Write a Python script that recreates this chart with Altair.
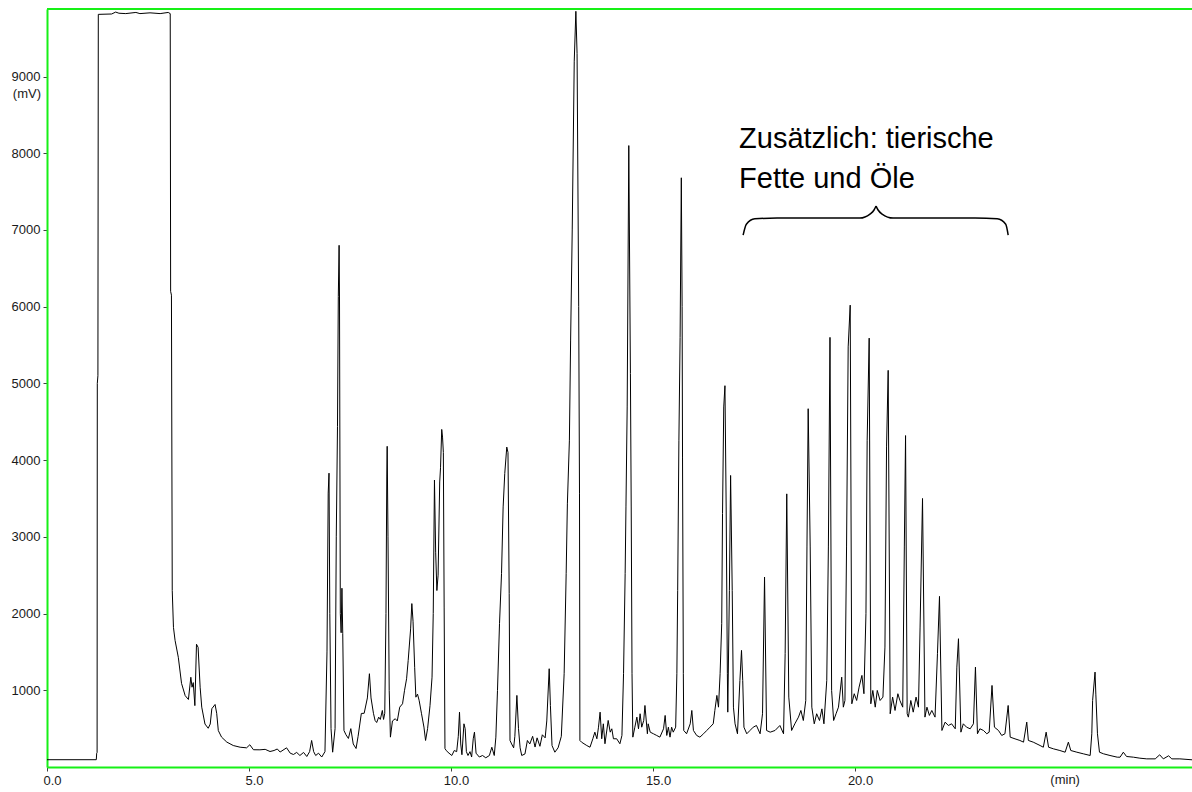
import altair as alt
import pandas as pd

# ---- chromatogram trace (retention time in min, detector signal in mV) ----
time_min = [
    0.00, 1.22, 1.23, 1.24, 1.245, 1.26, 1.27, 1.60, 1.70, 1.78, 1.95, 2.20, 2.30, 2.55, 2.80, 3.00, 3.05,
    3.06, 3.08, 3.10, 3.13, 3.17, 3.25, 3.33, 3.42, 3.50, 3.56, 3.59, 3.62, 3.66, 3.70, 3.74, 3.79, 3.83,
    3.91, 3.99, 4.04, 4.08, 4.16, 4.20, 4.24, 4.32, 4.45, 4.61, 4.78, 4.94, 5.02, 5.11, 5.27, 5.40, 5.52,
    5.62, 5.70, 5.77, 5.93, 6.02, 6.10, 6.18, 6.26, 6.35, 6.43, 6.50, 6.55, 6.60, 6.65, 6.72, 6.80, 6.88,
    6.93, 6.96, 6.98, 7.00, 7.03, 7.07, 7.13, 7.16, 7.19, 7.21, 7.23, 7.24, 7.26, 7.28, 7.30, 7.32, 7.35,
    7.40, 7.46, 7.52, 7.58, 7.65, 7.70, 7.78, 7.85, 7.93, 7.98, 8.02, 8.08, 8.12, 8.16, 8.21, 8.25, 8.30,
    8.33, 8.36, 8.39, 8.41, 8.42, 8.44, 8.47, 8.50, 8.55, 8.62, 8.67, 8.73, 8.80, 8.85, 8.90, 8.94, 9.00,
    9.03, 9.06, 9.10, 9.13, 9.17, 9.21, 9.27, 9.33, 9.37, 9.42, 9.48, 9.53, 9.56, 9.59, 9.62, 9.65, 9.68,
    9.72, 9.74, 9.77, 9.79, 9.81, 9.83, 9.85, 9.88, 9.95, 10.02, 10.08, 10.14, 10.18, 10.21, 10.24, 10.27,
    10.32, 10.35, 10.38, 10.42, 10.47, 10.51, 10.55, 10.58, 10.62, 10.70, 10.78, 10.86, 10.95, 11.01, 11.07,
    11.11, 11.15, 11.20, 11.25, 11.29, 11.33, 11.38, 11.41, 11.44, 11.46, 11.50, 11.55, 11.58, 11.63, 11.67,
    11.71, 11.75, 11.83, 11.89, 11.95, 12.02, 12.08, 12.13, 12.20, 12.26, 12.33, 12.37, 12.43, 12.46, 12.50,
    12.57, 12.65, 12.73, 12.80, 12.85, 12.88, 12.93, 12.96, 13.00, 13.05, 13.09, 13.12, 13.16, 13.18, 13.19,
    13.23, 13.36, 13.44, 13.51, 13.56, 13.61, 13.65, 13.69, 13.73, 13.77, 13.81, 13.89, 13.94, 13.98, 14.02,
    14.10, 14.18, 14.23, 14.27, 14.31, 14.33, 14.36, 14.40, 14.44, 14.46, 14.48, 14.50, 14.55, 14.60, 14.64,
    14.68, 14.72, 14.77, 14.80, 14.86, 14.88, 14.93, 15.01, 15.09, 15.17, 15.26, 15.30, 15.34, 15.38, 15.42,
    15.46, 15.50, 15.56, 15.59, 15.61, 15.64, 15.67, 15.70, 15.72, 15.73, 15.75, 15.76, 15.83, 15.92, 15.96,
    16.00, 16.08, 16.16, 16.25, 16.33, 16.41, 16.49, 16.53, 16.58, 16.62, 16.66, 16.70, 16.72, 16.75, 16.78,
    16.81, 16.84, 16.85, 16.89, 16.92, 16.96, 16.99, 17.03, 17.09, 17.15, 17.19, 17.22, 17.25, 17.32, 17.40,
    17.48, 17.56, 17.65, 17.71, 17.76, 17.81, 17.90, 18.02, 18.14, 18.23, 18.27, 18.31, 18.36, 18.43, 18.51,
    18.60, 18.66, 18.72, 18.78, 18.81, 18.84, 18.89, 18.93, 18.99, 19.05, 19.12, 19.18, 19.23, 19.30, 19.34,
    19.38, 19.42, 19.47, 19.53, 19.59, 19.67, 19.71, 19.75, 19.79, 19.83, 19.88, 19.92, 19.98, 20.04, 20.10,
    20.17, 20.22, 20.27, 20.30, 20.35, 20.39, 20.44, 20.50, 20.55, 20.62, 20.69, 20.74, 20.78, 20.82, 20.87,
    20.93, 20.99, 21.06, 21.11, 21.18, 21.22, 21.25, 21.29, 21.32, 21.38, 21.44, 21.51, 21.57, 21.61, 21.67,
    21.73, 21.78, 21.84, 21.90, 21.98, 22.04, 22.09, 22.15, 22.23, 22.31, 22.39, 22.48, 22.52, 22.56, 22.62,
    22.68, 22.76, 22.85, 22.93, 22.98, 23.03, 23.09, 23.18, 23.26, 23.32, 23.39, 23.45, 23.55, 23.63, 23.71,
    23.79, 23.84, 23.96, 24.08, 24.17, 24.25, 24.29, 24.41, 24.58, 24.66, 24.73, 24.79, 24.91, 25.07, 25.20,
    25.28, 25.34, 25.49, 25.65, 25.82, 25.86, 25.88, 25.94, 25.96, 26.00, 26.05, 26.15, 26.31, 26.49, 26.56,
    26.64, 26.72, 26.89, 27.05, 27.22, 27.43, 27.54, 27.63, 27.76, 27.84, 28.04, 28.34,
]
signal_mv = [
    95, 95, 180, 190, 5000, 5100, 9810, 9815, 9840, 9825, 9820, 9835, 9820, 9830, 9820, 9835, 9820,
    6200, 6150, 2300, 1820, 1650, 1430, 1090, 930, 880, 1170, 1040, 1100, 800, 1600, 1560, 1040, 780,
    560, 505, 560, 760, 815, 700, 475, 390, 325, 280, 258, 250, 290, 225, 224, 230, 202,
    215, 235, 195, 250, 180, 163, 190, 150, 190, 137, 200, 346, 200, 150, 180, 130, 200,
    1500, 3570, 3830, 2000, 500, 193, 500, 3000, 4440, 6130, 6800, 6100, 2000, 1750, 2330, 1740, 476,
    420, 372, 500, 300, 241, 400, 698, 700, 900, 1216, 900, 700, 607, 580, 650, 620, 737,
    620, 700, 2000, 3780, 4180, 3000, 1000, 389, 600, 629, 600, 780, 824, 1000, 1150, 1390, 1800,
    2130, 1900, 1300, 910, 950, 870, 694, 520, 346, 500, 800, 1171, 2000, 3740, 2800, 2300, 2500,
    3715, 3900, 4400, 4300, 4100, 2085, 241, 215, 180, 150, 215, 200, 400, 715, 300, 160,
    563, 500, 200, 150, 200, 130, 368, 454, 180, 130, 150, 120, 150, 258, 150,
    389, 998, 1868, 2520, 3390, 3825, 4170, 4100, 2260, 346, 300, 250, 400, 933, 500,
    250, 150, 170, 346, 300, 400, 260, 380, 270, 420, 380, 600, 1281, 800, 280,
    193, 250, 400, 1216, 2520, 3430, 4260, 5565, 7000, 9200, 9850, 9300, 6000, 3560, 346,
    324, 280, 258, 368, 454, 368, 519, 715, 368, 563, 303, 607, 454, 498, 368,
    368, 303, 411, 1216, 2520, 3390, 4693, 8100, 5129, 3389, 1216, 389, 519, 650, 498,
    694, 519, 607, 802, 433, 563, 454, 433, 411, 389, 498, 672, 411, 519, 389,
    519, 454, 519, 1216, 2302, 4259, 5600, 7680, 6000, 4040, 1216, 476, 433, 563, 737,
    476, 411, 389, 433, 476, 519, 563, 737, 933, 780, 1216, 1868, 3303, 4693, 4970,
    3389, 1216, 715, 2302, 3800, 2302, 780, 563, 433, 1128, 1520, 1128, 519, 433, 476,
    519, 541, 433, 694, 2476, 476, 454, 476, 541, 433, 1477, 3560, 911, 476, 563,
    650, 737, 606, 867, 2868, 4670, 2868, 780, 563, 694, 606, 758, 563, 1128, 2868,
    5600, 998, 606, 694, 780, 1171, 780, 867, 2868, 5476, 6020, 824, 955, 867, 1041,
    1194, 955, 1998, 4259, 5590, 824, 998, 780, 998, 867, 911, 1563, 4172, 5170, 694,
    911, 737, 955, 867, 780, 2868, 4320, 694, 650, 867, 715, 911, 780, 1824, 3500,
    650, 780, 672, 737, 650, 1477, 2224, 476, 585, 541, 563, 498, 1302, 1672, 454,
    563, 519, 498, 563, 1302, 433, 498, 476, 433, 454, 1063, 519, 476, 411, 433,
    802, 389, 367, 346, 324, 585, 346, 324, 280, 258, 454, 258, 237, 215, 193,
    324, 215, 193, 172, 150, 433, 867, 1237, 950, 433, 193, 172, 150, 128, 128,
    193, 137, 128, 115, 106, 106, 159, 106, 146, 106, 106, 94,
]
assert len(time_min) == len(signal_mv)

# ---- axes ----
x_tick_values = [0, 5, 10, 15, 20]
y_tick_values = [1000, 2000, 3000, 4000, 5000, 6000, 7000, 8000, 9000]
x_unit_text = ["(min)"]
x_unit_time = [25.2]
y_unit_text = ["(mV)"]
y_unit_mv = [9000]
x_max = 28.34
y_max = 9880

# ---- annotation ----
note_lines = ["Zusätzlich: tierische", "Fette und Öle"]
note_time = [17.13, 17.13]
note_mv = [8068, 7546]

brace_part = ["L"] * 8 + ["R"] * 8
brace_time = [17.23, 17.31, 17.52, 18.07, 20.12, 20.37, 20.47, 20.52,
              20.52, 20.57, 20.67, 20.94, 22.97, 23.52, 23.73, 23.79]
brace_mv = [6933, 7075, 7145, 7155, 7155, 7207, 7260, 7312,
            7312, 7260, 7207, 7155, 7155, 7145, 7075, 6933]

W, H = 1145, 758
GREEN = "#16f016"
FONT = "Liberation Sans"
LABEL_COLOR = "#1a1a1a"

x_scale = alt.Scale(domain=[0, x_max], nice=False, zero=False)
y_scale = alt.Scale(domain=[0, y_max], nice=False, zero=False)

x_axis = alt.Axis(values=x_tick_values, format=".1f", title=None, grid=False,
                  domainColor=GREEN, domainWidth=2, tickColor="#404040", tickSize=4,
                  tickWidth=1, labelFont=FONT, labelFontSize=13, labelColor=LABEL_COLOR,
                  labelPadding=3, labelOffset=5, labelFlush=False, labelOverlap=False)
y_axis = alt.Axis(values=y_tick_values, format="d", title=None, grid=False,
                  domainColor=GREEN, domainWidth=2, tickColor="#404040", tickSize=4,
                  tickWidth=1, labelFont=FONT, labelFontSize=13, labelColor=LABEL_COLOR,
                  labelPadding=3, labelFlush=False, labelOverlap=False)

X = alt.X("t:Q", scale=x_scale, axis=x_axis)
Y = alt.Y("mv:Q", scale=y_scale, axis=y_axis)

trace_df = pd.DataFrame({"t": time_min, "mv": signal_mv})
trace = alt.Chart(trace_df).mark_line(color="black", strokeWidth=1, clip=True).encode(x=X, y=Y)

brace_df = pd.DataFrame({"t": brace_time, "mv": brace_mv, "part": brace_part})
brace = alt.Chart(brace_df).mark_line(color="black", strokeWidth=1.5, interpolate="monotone").encode(
    x=X, y=Y, detail="part:N")

note_df = pd.DataFrame({"t": note_time, "mv": note_mv, "txt": note_lines})
notes = alt.Chart(note_df).mark_text(align="left", baseline="alphabetic", font=FONT,
                                     fontSize=29, color="black").encode(x=X, y=Y, text="txt:N")

xunit_df = pd.DataFrame({"t": x_unit_time, "txt": x_unit_text})
xunit = alt.Chart(xunit_df).mark_text(align="center", baseline="top", font=FONT, fontSize=13,
                                      color=LABEL_COLOR).encode(x=X, y=alt.value(H + 7), text="txt:N")

yunit_df = pd.DataFrame({"mv": y_unit_mv, "txt": y_unit_text})
yunit = alt.Chart(yunit_df).mark_text(align="right", baseline="middle", font=FONT, fontSize=13,
                                      color=LABEL_COLOR, dy=17).encode(x=alt.value(-6), y=Y, text="txt:N")

top_df = pd.DataFrame({"k": [0]})
top_line = alt.Chart(top_df).mark_rule(color=GREEN, strokeWidth=2).encode(
    x=alt.value(0), x2=alt.value(W), y=alt.value(0))

chart = alt.layer(trace, brace, notes, xunit, yunit, top_line).properties(
    width=W, height=H,
    autosize=alt.AutoSizeParams(type="none"),
    padding={"left": 47, "top": 9, "right": 0, "bottom": 25},
    background="white",
).configure_view(stroke=None)

chart.save("out.html", embed_options={"renderer": "svg", "actions": False})
